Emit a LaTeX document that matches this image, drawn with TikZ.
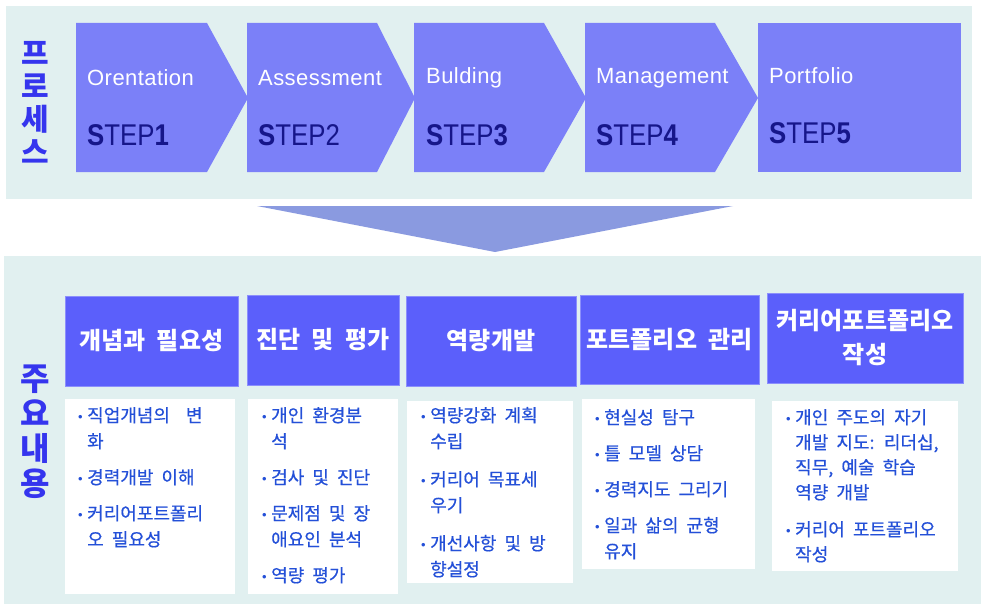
\documentclass[tikz,border=0pt]{standalone}
\usepackage{fontspec}
\setmainfont{Liberation Sans}
\newfontfamily\kr[WordSpace=2]{Noto Sans CJK KR}
\newfontfamily\krm[WordSpace=2,FakeBold=0.5]{Noto Sans CJK KR}
\newfontfamily\stepfont[FakeStretch=0.86]{Liberation Sans}
\newfontfamily\namefont[LetterSpace=2]{Liberation Sans}
\newfontfamily\bulf{Liberation Sans}
\definecolor{bgc}{HTML}{E1F0F0}
\definecolor{stepc}{HTML}{7B80F8}
\definecolor{headc}{HTML}{5B5FFB}
\definecolor{tric}{HTML}{8A9AE0}
\definecolor{navy}{HTML}{16168A}
\definecolor{vlab}{HTML}{3535EE}
\definecolor{txtc}{HTML}{2450D8}
\newcommand{\bl}{\makebox[9pt][l]{\raisebox{1pt}{\bulf\fontsize{13}{13}\selectfont •}}}
\tikzset{
  stepname/.style={anchor=west, text=white, font=\namefont\fontsize{22}{22}\selectfont, inner sep=0pt},
  steplabel/.style={anchor=west, text=navy, font=\stepfont\fontsize{30}{30}\selectfont, inner sep=0pt},
  vlabel/.style={text=vlab, align=center, inner sep=0pt},
  headbox/.style={fill=headc, draw=headc!70!white, line width=0.6pt, text=white, align=center, inner sep=0pt,
    font=\kr\bfseries\fontsize{24}{34}\selectfont},
  contbox/.style={fill=white, draw=none, inner sep=0pt},
  conttext/.style={anchor=base west, text=txtc, inner sep=0pt, font=\krm\fontsize{18}{26}\selectfont}
}
\begin{document}
\begin{tikzpicture}[x=1pt,y=-1pt]
\useasboundingbox (0,0) rectangle (981,604);
\fill[white] (0,0) rectangle (981,604);
% panels
\fill[bgc] (6,6) rectangle (972,199);
\fill[bgc] (4,256) rectangle (981,604);
% step shapes
\fill[stepc] (76,23) -- (207,23) -- (248,98) -- (207,172) -- (76,172) -- cycle;
\fill[stepc] (247,23) -- (377,23) -- (415,98) -- (377,172) -- (247,172) -- cycle;
\fill[stepc] (414,23) -- (544,23) -- (586,98) -- (544,172) -- (414,172) -- cycle;
\fill[stepc] (585,23) -- (715,23) -- (758,98) -- (715,172) -- (585,172) -- cycle;
\fill[stepc] (758,23) rectangle (961,172);
% step texts
\node[stepname] (n1) at (87,78) {Orentation};
\node[stepname] (n2) at (258,78) {Assessment};
\node[stepname] (n3) at (426,78) {Bulding};
\node[stepname] (n4) at (596,78) {Management};
\node[stepname] (n5) at (769,76) {Portfolio};
\node[steplabel] (s1) at (87,135) {\textbf{S}TEP\textbf{1}};
\node[steplabel] (s2) at (258,135) {\textbf{S}TEP2};
\node[steplabel] (s3) at (426,135) {\textbf{S}TEP\textbf{3}};
\node[steplabel] (s4) at (596,135) {\textbf{S}TEP\textbf{4}};
\node[steplabel] (s5) at (769,133) {\textbf{S}TEP\textbf{5}};
% vertical labels
\node[vlabel, font=\kr\bfseries\fontsize{30}{33}\selectfont] (v1) at (35,102) {프\\로\\세\\스};
\node[vlabel, font=\kr\bfseries\fontsize{32}{35}\selectfont] (v2) at (35,432) {주\\요\\내\\용};
% down arrow
\fill[tric] (257,206) -- (733,206) -- (495,252) -- cycle;
% header boxes
\node[headbox, minimum width=173pt, minimum height=90pt] (h1) at (151.5,341) {개념과 필요성};
\node[headbox, minimum width=152pt, minimum height=90pt] (h2) at (323,340) {진단 및 평가};
\node[headbox, minimum width=170pt, minimum height=90pt] (h3) at (491,341) {역량개발};
\node[headbox, minimum width=179pt, minimum height=89pt] (h4) at (669.5,339.5) {포트폴리오 관리};
\node[headbox, minimum width=196pt, minimum height=90pt] (h5) at (865,338) {커리어포트폴리오\\작성};
% content boxes
\node[contbox, minimum width=170pt, minimum height=195pt] (c1) at (150,496.5) {};
\node[contbox, minimum width=150pt, minimum height=195pt] (c2) at (323,496.5) {};
\node[contbox, minimum width=166pt, minimum height=182pt] (c3) at (490,492) {};
\node[contbox, minimum width=173pt, minimum height=170pt] (c4) at (668.5,484) {};
\node[contbox, minimum width=186pt, minimum height=170pt] (c5) at (865,486) {};
% content texts
\node[conttext] (t1) at (78,422) {\begin{tabular}[t]{@{}l@{}l@{}}
\bl & 직업개념의\hspace{16pt}변\\ & 화\\[10pt]
\bl & 경력개발 이해\\[10pt]
\bl & 커리어포트폴리\\ & 오 필요성
\end{tabular}};
\node[conttext] (t2) at (262,422) {\begin{tabular}[t]{@{}l@{}l@{}}
\bl & 개인 환경분\\ & 석\\[10pt]
\bl & 검사 및 진단\\[10pt]
\bl & 문제점 및 장\\ & 애요인 분석\\[10pt]
\bl & 역량 평가
\end{tabular}};
\node[conttext] (t3) at (421,422) {\begin{tabular}[t]{@{}l@{}l@{}}
\bl & 역량강화 계획\\ & 수립\\[12pt]
\bl & 커리어 목표세\\ & 우기\\[12pt]
\bl & 개선사항 및 방\\ & 향설정
\end{tabular}};
\node[conttext] (t4) at (595,424) {\begin{tabular}[t]{@{}l@{}l@{}}
\bl & 현실성 탐구\\[10pt]
\bl & 틀 모델 상담\\[10pt]
\bl & 경력지도 그리기\\[10pt]
\bl & 일과 삶의 균형\\ & 유지
\end{tabular}};
\node[conttext, font=\krm\fontsize{18}{25}\selectfont] (t5) at (786,424) {\begin{tabular}[t]{@{}l@{}l@{}}
\bl & 개인 주도의 자기\\ & 개발 지도: 리더십,\\ & 직무, 예술 학습\\ & 역량 개발\\[12pt]
\bl & 커리어 포트폴리오\\ & 작성
\end{tabular}};
\end{tikzpicture}
\end{document}
